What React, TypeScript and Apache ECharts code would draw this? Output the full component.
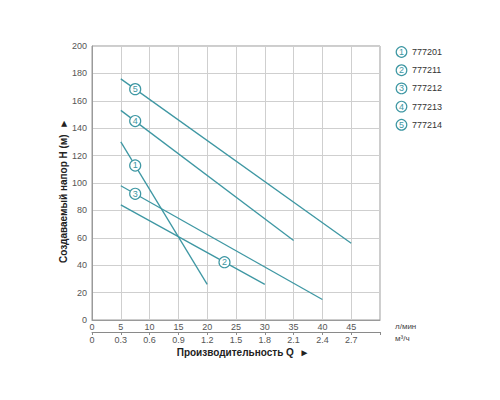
import React, { useEffect, useRef } from "react";
import * as echarts from "echarts";

const flowLpmTicks = ["0", "5", "10", "15", "20", "25", "30", "35", "40", "45"];
const flowM3hTicks = ["0", "0.3", "0.6", "0.9", "1.2", "1.5", "1.8", "2.1", "2.4", "2.7"];

const modelNames = ["777201", "777211", "777212", "777213", "777214"];

const curve1 = [[5, 130], [20, 26]];
const curve2 = [[5, 84], [30, 26]];
const curve3 = [[5, 98], [40, 15]];
const curve4 = [[5, 153], [35, 58]];
const curve5 = [[5, 176], [45, 56]];

const curveMarkers = [
  [7.5, 112.8, "1"],
  [23, 42.2, "2"],
  [7.5, 92.1, "3"],
  [7.5, 145.2, "4"],
  [7.5, 168.5, "5"],
];

const TEAL = "#3e97a3";
const FONT = "'Liberation Sans', Arial, sans-serif";

export default function App() {
  const ref = useRef<HTMLDivElement>(null);
  useEffect(() => {
    document.body.style.margin = "0";
    const chart = echarts.init(ref.current!, null, { renderer: "svg" });
    const curves = [curve1, curve2, curve3, curve4, curve5];
    const legendGraphics: any[] = [];
    modelNames.forEach((name, i) => {
      const cy = 52 + i * 18.2;
      legendGraphics.push({
        type: "circle",
        shape: { cx: 401.5, cy, r: 5.3 },
        style: { fill: "#fff", stroke: TEAL, lineWidth: 1.2 },
      });
      legendGraphics.push({
        type: "text",
        x: 401.5,
        y: cy,
        style: { text: String(i + 1), fill: TEAL, font: `9px ${FONT}`, align: "center", verticalAlign: "middle" },
      });
      legendGraphics.push({
        type: "text",
        x: 412,
        y: cy,
        style: { text: name, fill: "#333", font: `9px ${FONT}`, align: "left", verticalAlign: "middle" },
      });
    });
    chart.setOption({
      animation: false,
      textStyle: { fontFamily: FONT },
      grid: {
        left: 92,
        top: 46,
        right: 120,
        bottom: 80,
        show: true,
        borderColor: "#9a9a9a",
        borderWidth: 1,
      },
      xAxis: [
        {
          type: "value",
          min: 0,
          max: 50,
          interval: 5,
          position: "bottom",
          axisLine: { show: true, lineStyle: { color: "#9a9a9a" } },
          axisTick: { show: false },
          splitLine: { show: true, lineStyle: { color: "#cfcfcf" } },
          axisLabel: {
            margin: 2,
            fontSize: 9,
            color: "#555",
            formatter: (v: number) => flowLpmTicks[Math.round(v / 5)] ?? "",
          },
        },
        {
          type: "value",
          min: 0,
          max: 50,
          interval: 5,
          position: "bottom",
          offset: 12,
          axisLine: { show: true, lineStyle: { color: "#8a8a8a" } },
          axisTick: { show: true, length: 3, lineStyle: { color: "#8a8a8a" } },
          splitLine: { show: false },
          axisLabel: {
            margin: 3,
            fontSize: 9,
            color: "#555",
            formatter: (v: number) => flowM3hTicks[Math.round(v / 5)] ?? "",
          },
        },
      ],
      yAxis: {
        type: "value",
        min: 0,
        max: 200,
        interval: 20,
        axisLine: { show: true, lineStyle: { color: "#9a9a9a" } },
        axisTick: { show: false },
        splitLine: { show: true, lineStyle: { color: "#cfcfcf" } },
        axisLabel: { margin: 5, fontSize: 9, color: "#555" },
      },
      series: [
        ...curves.map((c, i) => ({
          type: "line",
          name: modelNames[i],
          data: c,
          symbol: "none",
          lineStyle: { color: TEAL, width: 1.3 },
          z: 2,
        })),
        {
          type: "scatter",
          data: curveMarkers,
          symbol: "circle",
          symbolSize: 11,
          itemStyle: { color: "#fff", borderColor: TEAL, borderWidth: 1.2, opacity: 1 },
          label: {
            show: true,
            position: "inside",
            formatter: (p: any) => p.data[2],
            color: TEAL,
            fontSize: 9,
          },
          z: 5,
        },
      ],
      graphic: [
        ...legendGraphics,
        {
          type: "text",
          x: 395,
          y: 326,
          style: { text: "л/мин", fill: "#444", font: `8px ${FONT}`, verticalAlign: "middle" },
        },
        {
          type: "text",
          x: 395,
          y: 338,
          style: { text: "м³/ч", fill: "#444", font: `8px ${FONT}`, verticalAlign: "middle" },
        },
        {
          type: "text",
          x: 243,
          y: 352,
          style: {
            text: "Производительность Q  ►",
            fill: "#222",
            font: `bold 10px ${FONT}`,
            align: "center",
            verticalAlign: "middle",
          },
        },
        {
          type: "text",
          x: 63,
          y: 191,
          rotation: Math.PI / 2,
          style: {
            text: "Создаваемый напор H (м)  ►",
            fill: "#222",
            font: `bold 10px ${FONT}`,
            align: "center",
            verticalAlign: "middle",
          },
        },
      ],
    });
    return () => chart.dispose();
  }, []);
  return <div ref={ref} style={{ width: 500, height: 400 }} />;
}
